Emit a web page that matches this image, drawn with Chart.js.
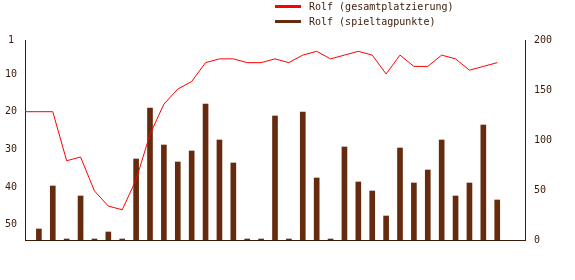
<!DOCTYPE html>
<html>
<head>
<meta charset="utf-8">
<script src="https://cdn.jsdelivr.net/npm/chart.js@4"></script>
<style>
  html, body { margin: 0; padding: 0; background: #fff; }
</style>
</head>
<body>
<canvas id="chart" width="575" height="280"></canvas>
<script>
// one slot per matchday, the last two are empty
const matchdays = Array.from({ length: 37 }, () => '');

const rankLabel = 'Rolf (gesamtplatzierung)';
const pointsLabel = 'Rolf (spieltagpunkte)';

const ranks = [20, 20, 20, 33, 32, 41, 45, 46, 38, 26, 18, 14, 12, 7, 6, 6, 7, 7, 6, 7,
    5, 4, 6, 5, 4, 5, 10, 5, 8, 8, 5, 6, 9, 8, 7, null, null];

const points = [null, 11, 54, 1, 44, 1, 8, 1, 81, 132, 95, 78, 89, 136, 100, 77, 1, 1, 124, 1,
    128, 62, 1, 93, 58, 49, 24, 92, 57, 70, 100, 44, 57, 115, 40, null, null];

const rankTicks = [1, 10, 20, 30, 40, 50];

const textColor = '#3a1a08';
const font = { family: 'DejaVu Sans Mono', size: 10 };

Chart.defaults.font.family = font.family;
Chart.defaults.font.size = font.size;
Chart.defaults.color = textColor;

// legend stacked in two rows above the plot
const stackedLegend = {
    id: 'stackedLegend',
    afterDraw(chart) {
        const ctx = chart.ctx;
        ctx.save();
        ctx.font = `${font.size}px ${font.family}`;
        ctx.textBaseline = 'middle';
        chart.data.datasets.forEach((ds, i) => {
            const y = 6 + i * 15;
            ctx.strokeStyle = ds.borderColor;
            ctx.lineWidth = 3;
            ctx.beginPath();
            ctx.moveTo(275, y + 0.5);
            ctx.lineTo(301, y + 0.5);
            ctx.stroke();
            ctx.fillStyle = textColor;
            ctx.fillText(ds.label, 309, y + 1);
        });
        ctx.restore();
    }
};

new Chart(document.getElementById('chart'), {
    data: {
        labels: matchdays,
        datasets: [{
            type: 'line',
            label: rankLabel,
            data: ranks,
            yAxisID: 'y',
            borderColor: '#ff0000',
            borderWidth: 1,
            pointRadius: 0,
            tension: 0,
            order: 0
        }, {
            type: 'bar',
            label: pointsLabel,
            data: points,
            yAxisID: 'y1',
            backgroundColor: '#662b0e',
            borderColor: '#662b0e',
            barThickness: 5,
            order: 1
        }]
    },
    plugins: [stackedLegend],
    options: {
        responsive: false,
        animation: false,
        layout: { padding: { top: 40, bottom: 40, left: 0, right: 0 } },
        plugins: {
            legend: { display: false },
            tooltip: { enabled: false }
        },
        scales: {
            x: {
                offset: false,
                grid: { display: false },
                ticks: { display: false },
                border: { display: true, color: textColor },
                afterFit: scale => { scale.height = 0; }
            },
            y: {
                position: 'left',
                reverse: true,
                min: 1,
                max: 54,
                grid: { display: false, drawTicks: false },
                border: { display: true, color: textColor },
                ticks: { crossAlign: 'center', padding: 8, color: textColor },
                afterBuildTicks: scale => {
                    scale.ticks = rankTicks.map(v => ({ value: v }));
                },
                afterFit: scale => { scale.width = 25; }
            },
            y1: {
                position: 'right',
                min: 0,
                max: 200,
                grid: { display: false, drawTicks: false },
                border: { display: true, color: textColor },
                ticks: { stepSize: 50, padding: 9, color: textColor },
                afterFit: scale => { scale.width = 50; }
            }
        }
    }
});
</script>
</body>
</html>
